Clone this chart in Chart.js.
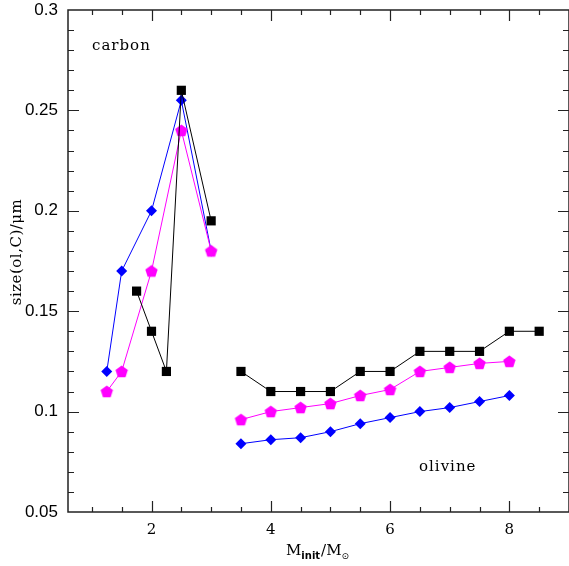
<!DOCTYPE html>
<html>
<head>
<meta charset="utf-8">
<script src="https://cdn.jsdelivr.net/npm/chart.js@4"></script>
<style>
    html, body { margin: 0; padding: 0; background: #fff; }
    #wrap { width: 569px; height: 566px; }
</style>
</head>
<body>
<div id="wrap"><canvas id="sizeChart" width="569" height="566"></canvas></div>
<script>
// carbon dust (low-mass stars)
const carbonMassBlack = [1.75, 2, 2.25, 2.5, 3];
const carbonBlack = [0.16, 0.14, 0.12, 0.26, 0.195];
const carbonMass = [1.25, 1.5, 2, 2.5, 3];
const carbonBlue = [0.12, 0.17, 0.2, 0.255, 0.18];
const carbonMagenta = [0.11, 0.12, 0.17, 0.24, 0.18];

// olivine dust (massive stars)
const olivineMassBlack = [3.5, 4, 4.5, 5, 5.5, 6, 6.5, 7, 7.5, 8, 8.5];
const olivineBlack = [0.12, 0.11, 0.11, 0.11, 0.12, 0.12, 0.13, 0.13, 0.13, 0.14, 0.14];
const olivineMass = [3.5, 4, 4.5, 5, 5.5, 6, 6.5, 7, 7.5, 8];
const olivineMagenta = [0.096, 0.1, 0.102, 0.104, 0.108, 0.111, 0.12, 0.122, 0.124, 0.125];
const olivineBlue = [0.084, 0.086, 0.087, 0.09, 0.094, 0.097, 0.1, 0.102, 0.105, 0.108];

const xTickLabels = [2, 4, 6, 8];
const yTickLabels = [0.05, 0.1, 0.15, 0.2, 0.25, 0.3];

function toPoints(xs, ys) {
    return xs.map((x, i) => ({ x: x, y: ys[i] }));
}

// pentagon marker, chart.js has no built-in one
function makePentagon(r, color) {
    const c = document.createElement("canvas");
    const s = Math.ceil(r * 2 + 2);
    c.width = s;
    c.height = s;
    const g = c.getContext("2d");
    g.fillStyle = color;
    g.beginPath();
    for (let i = 0; i < 5; i++) {
        const a = -Math.PI / 2 + (i * 2 * Math.PI) / 5;
        const px = s / 2 + r * Math.cos(a);
        const py = s / 2 + r * Math.sin(a) + 0.5;
        if (i === 0) g.moveTo(px, py);
        else g.lineTo(px, py);
    }
    g.closePath();
    g.fill();
    return c;
}

const pentagon = makePentagon(6.5, "#ff00ff");

function series(xs, ys, color, style, radius) {
    return {
        data: toPoints(xs, ys),
        showLine: true,
        borderColor: color,
        backgroundColor: color,
        borderWidth: 1,
        pointStyle: style,
        pointRadius: radius,
        pointBorderWidth: 0,
        pointBackgroundColor: color,
        pointBorderColor: color,
    };
}

const frameTicks = {
    id: "frameTicks",
    afterDatasetsDraw(chart) {
        const ctx = chart.ctx;
        const a = chart.chartArea;
        const xs = chart.scales.x;
        const ys = chart.scales.y;
        ctx.save();
        ctx.strokeStyle = "#222";
        ctx.lineWidth = 1.5;
        ctx.strokeRect(a.left, a.top, a.right - a.left, a.bottom - a.top);

        ctx.lineWidth = 1.2;
        ctx.beginPath();
        for (let v = 1; v <= 8.51; v += 0.5) {
            const px = Math.round(xs.getPixelForValue(v)) + 0.5;
            const len = Math.abs(v % 2) < 1e-6 ? 11 : 5;
            ctx.moveTo(px, a.bottom);
            ctx.lineTo(px, a.bottom - len);
            ctx.moveTo(px, a.top);
            ctx.lineTo(px, a.top + len);
        }
        for (let i = 6; i < 30; i++) {
            const v = i / 100;
            const py = Math.round(ys.getPixelForValue(v)) + 0.5;
            const len = i % 5 === 0 ? 11 : 6;
            ctx.moveTo(a.left, py);
            ctx.lineTo(a.left + len, py);
            ctx.moveTo(a.right, py);
            ctx.lineTo(a.right - len, py);
        }
        ctx.stroke();

        // labels inside the plot
        ctx.fillStyle = "#000";
        ctx.font = "15px 'DejaVu Serif'";
        ctx.letterSpacing = "1px";
        ctx.textBaseline = "middle";
        ctx.textAlign = "left";
        ctx.fillText("carbon", 92, 46);
        ctx.fillText("olivine", 419, 467);
        ctx.letterSpacing = "0px";

        // x axis title
        ctx.font = "15px 'DejaVu Serif'";
        ctx.textBaseline = "alphabetic";
        let x = 286;
        const base = 555;
        ctx.fillText("M", x, base);
        x += ctx.measureText("M").width;
        ctx.font = "bold 10px 'DejaVu Sans'";
        ctx.fillText("init", x, base + 4);
        x += ctx.measureText("init").width + 1;
        ctx.font = "15px 'DejaVu Serif'";
        ctx.fillText("/M", x, base);
        x += ctx.measureText("/M").width;
        ctx.font = "9px 'DejaVu Sans'";
        ctx.fillText("\u2299", x, base + 4);

        // y axis title
        ctx.translate(21, 252);
        ctx.rotate(-Math.PI / 2);
        ctx.textAlign = "center";
        ctx.font = "15px 'DejaVu Serif'";
        ctx.letterSpacing = "0.5px";
        ctx.fillText("size(ol,C)/\u03bcm", 0, 0);
        ctx.restore();
    },
};

const ctx = document.getElementById("sizeChart").getContext("2d");

new Chart(ctx, {
    type: "scatter",
    data: {
        datasets: [
            series(carbonMassBlack, carbonBlack, "#000000", "rect", 6.5),
            series(carbonMass, carbonMagenta, "#ff00ff", pentagon, 6),
            series(carbonMass, carbonBlue, "#0000ff", "rectRot", 5.5),
            series(olivineMassBlack, olivineBlack, "#000000", "rect", 6.5),
            series(olivineMass, olivineMagenta, "#ff00ff", pentagon, 6),
            series(olivineMass, olivineBlue, "#0000ff", "rectRot", 5.5),
        ],
    },
    options: {
        responsive: false,
        animation: false,
        layout: {
            autoPadding: false,
            padding: { top: 10, right: 0, left: 0, bottom: 0 },
        },
        plugins: {
            legend: { display: false },
            tooltip: { enabled: false },
        },
        scales: {
            x: {
                type: "linear",
                min: 0.6,
                max: 9.0,
                grid: { display: false, drawTicks: false },
                border: { display: false },
                afterBuildTicks: function (scale) {
                    scale.ticks = xTickLabels.map((v) => ({ value: v }));
                },
                afterFit: function (scale) {
                    scale.height = 54;
                    scale.paddingLeft = 0;
                    scale.paddingRight = 0;
                },
                ticks: {
                    padding: 9,
                    maxRotation: 0,
                    color: "#000",
                    font: { family: "'DejaVu Serif'", size: 15 },
                },
            },
            y: {
                type: "linear",
                min: 0.05,
                max: 0.3,
                grid: { display: false, drawTicks: false },
                border: { display: false },
                afterBuildTicks: function (scale) {
                    scale.ticks = yTickLabels.map((v) => ({ value: v }));
                },
                afterFit: function (scale) {
                    scale.width = 68;
                    scale.paddingTop = 0;
                    scale.paddingBottom = 0;
                },
                ticks: {
                    padding: 10,
                    color: "#000",
                    font: { family: "'Liberation Sans'", size: 17 },
                    callback: function (value) {
                        return String(parseFloat(value.toFixed(2)));
                    },
                },
            },
        },
    },
    plugins: [frameTicks],
});
</script>
</body>
</html>
